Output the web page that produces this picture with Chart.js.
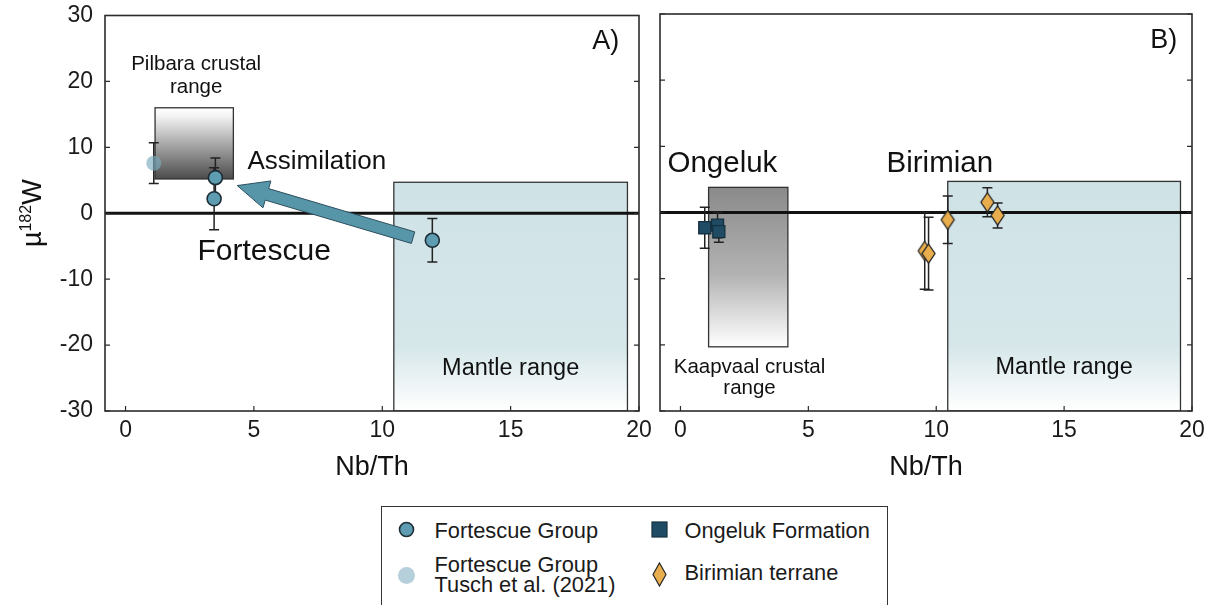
<!DOCTYPE html>
<html>
<head>
<meta charset="utf-8">
<script src="https://cdn.jsdelivr.net/npm/chart.js@4.4.0/dist/chart.umd.min.js"></script>
<style>
  html, body { margin: 0; padding: 0; background: #fff; width: 1220px; height: 605px; overflow: hidden;
               font-family: 'Liberation Sans', Arial, Helvetica, sans-serif; }
  #cA { position: absolute; left: 0; top: -8px; }
  #cB { position: absolute; left: 650px; top: 0; }
  .legend { position: absolute; left: 381px; top: 506px; width: 507px; height: 110px;
            border: 1.5px solid #333; box-sizing: border-box; background: #fff; }
  .legend svg { position: absolute; left: 0; top: 0; }
  .lt { position: absolute; font-size: 21.8px; line-height: 21px; color: #1a1a1a; white-space: nowrap; }
  .lt.two { line-height: 20px; }
</style>
</head>
<body>
<canvas id="cA" width="660" height="508"></canvas>
<canvas id="cB" width="570" height="500"></canvas>

<div class="legend">
  <svg width="507" height="110">
    <circle cx="24.5" cy="22.5" r="7" fill="#5d9cb1" stroke="#1d2c35" stroke-width="1.6"/>
    <circle cx="24.5" cy="68.5" r="8.5" fill="#b5d0da"/>
    <rect x="270" y="15" width="15" height="15" fill="#1f4b65" stroke="#14303f" stroke-width="1.2"/>
    <polygon points="277.5,56 284,67.5 277.5,79 271,67.5" fill="#e8ad4c" stroke="#262626" stroke-width="1.2"/>
  </svg>
  <div class="lt" style="left:52.5px; top:12.7px;">Fortescue Group</div>
  <div class="lt two" style="left:52.5px; top:48.2px;">Fortescue Group<br>Tusch et al. (2021)</div>
  <div class="lt" style="left:302.5px; top:12.7px;">Ongeluk Formation</div>
  <div class="lt" style="left:302.5px; top:54.7px;">Birimian terrane</div>
</div>

<script>
// ---- data: Nb/Th, µ182W and 2SD uncertainty ----
const fortescueNbTh = [3.5, 3.45, 11.95];
const fortescueMu   = [5.4, 2.2, -4.1];
const fortescueErr  = [3.0, 4.7, 3.3];

const tuschNbTh = [1.1];
const tuschMu   = [7.6];
const tuschErr  = [3.1];

const ongelukNbTh = [0.95, 1.45, 1.5];
const ongelukMu   = [-2.3, -1.9, -2.9];
const ongelukErr  = [3.1, 1.9, 1.6];

const birimianNbTh = [9.55, 9.7, 10.45, 12.0, 12.4];
const birimianMu   = [-5.8, -6.2, -1.1, 1.55, -0.45];
const birimianErr  = [5.8, 5.5, 3.6, 2.2, 1.9];

// reference ranges: [Nb/Th min, Nb/Th max, µ182W min, µ182W max]
const pilbaraRange  = [1.15, 4.2, 5.2, 16.0];
const kaapvaalRange = [1.1, 4.2, -20.3, 3.8];
const mantleRange   = [10.45, 19.55, -30, 4.7];

// assimilation trend: from mantle-like sample towards the crustal field
const assimilationFrom = [11.2, -3.7];
const assimilationTo   = [4.35, 4.2];

const xTicks = [0, 5, 10, 15, 20];
const yTicks = [-30, -20, -10, 0, 10, 20, 30];

const FONT = "'Liberation Sans', Arial, Helvetica, sans-serif";

function points(xs, ys) { return xs.map((x, i) => ({ x: x, y: ys[i] })); }

// tall diamond marker used for the Birimian samples
function diamondMarker(w, h) {
  const c = document.createElement('canvas');
  c.width = w + 4; c.height = h + 4;
  const g = c.getContext('2d');
  const cx = c.width / 2, cy = c.height / 2;
  g.beginPath();
  g.moveTo(cx, cy - h / 2); g.lineTo(cx + w / 2, cy);
  g.lineTo(cx, cy + h / 2); g.lineTo(cx - w / 2, cy);
  g.closePath();
  g.fillStyle = '#e8ad4c'; g.fill();
  g.lineWidth = 1.3; g.strokeStyle = '#262626'; g.stroke();
  return c;
}

function drawRange(ctx, xs, ys, r) {
  const [x0, x1, y0, y1] = r.values;
  const L = xs.getPixelForValue(x0), R = xs.getPixelForValue(x1);
  const T = ys.getPixelForValue(y1), B = ys.getPixelForValue(y0);
  const grad = ctx.createLinearGradient(0, T, 0, B);
  r.stops.forEach(s => grad.addColorStop(s[0], s[1]));
  ctx.fillStyle = grad;
  ctx.fillRect(L, T, R - L, B - T);
  ctx.lineWidth = 1.3; ctx.strokeStyle = '#333';
  ctx.strokeRect(L, T, R - L, B - T);
}

function drawArrow(ctx, xs, ys, from, to) {
  const x0 = xs.getPixelForValue(from[0]), y0 = ys.getPixelForValue(from[1]);
  const x1 = xs.getPixelForValue(to[0]),   y1 = ys.getPixelForValue(to[1]);
  const dx = x1 - x0, dy = y1 - y0, len = Math.hypot(dx, dy);
  const ux = dx / len, uy = dy / len, nx = -uy, ny = ux;
  const headLen = 31, headHalf = 14, shaftHalf = 6;
  const bx = x1 - ux * headLen, by = y1 - uy * headLen;
  ctx.beginPath();
  ctx.moveTo(x0 + nx * shaftHalf, y0 + ny * shaftHalf);
  ctx.lineTo(bx + nx * shaftHalf, by + ny * shaftHalf);
  ctx.lineTo(bx + nx * headHalf, by + ny * headHalf);
  ctx.lineTo(x1, y1);
  ctx.lineTo(bx - nx * headHalf, by - ny * headHalf);
  ctx.lineTo(bx - nx * shaftHalf, by - ny * shaftHalf);
  ctx.lineTo(x0 - nx * shaftHalf, y0 - ny * shaftHalf);
  ctx.closePath();
  ctx.fillStyle = '#5795a9'; ctx.fill();
  ctx.lineWidth = 1; ctx.strokeStyle = '#2c4f5e'; ctx.stroke();
}

function text(ctx, str, px, py, size, align) {
  ctx.font = size + 'px ' + FONT;
  ctx.fillStyle = '#111';
  ctx.textAlign = align || 'center';
  ctx.textBaseline = 'middle';
  ctx.fillText(str, px, py);
}

const panelDecor = {
  id: 'panelDecor',
  beforeDatasetsDraw(chart, args, opts) {
    const { ctx, chartArea: a, scales: { x, y } } = chart;
    ctx.save();
    ctx.beginPath(); ctx.rect(a.left, a.top, a.width, a.height); ctx.clip();
    (opts.ranges || []).forEach(r => drawRange(ctx, x, y, r));
    // µ182W = 0 reference line
    const y0 = y.getPixelForValue(0);
    ctx.beginPath(); ctx.moveTo(a.left, y0); ctx.lineTo(a.right, y0);
    ctx.lineWidth = 3; ctx.strokeStyle = '#111'; ctx.stroke();
    if (opts.arrow) drawArrow(ctx, x, y, opts.arrow.from, opts.arrow.to);
    // 2SD error bars
    ctx.lineWidth = 1.5; ctx.strokeStyle = '#222';
    chart.data.datasets.forEach(ds => {
      if (!ds.errors) return;
      ds.data.forEach((p, i) => {
        const px = x.getPixelForValue(p.x);
        const t = y.getPixelForValue(p.y + ds.errors[i]);
        const b = y.getPixelForValue(p.y - ds.errors[i]);
        ctx.beginPath();
        ctx.moveTo(px, t); ctx.lineTo(px, b);
        ctx.moveTo(px - 5, t); ctx.lineTo(px + 5, t);
        ctx.moveTo(px - 5, b); ctx.lineTo(px + 5, b);
        ctx.stroke();
      });
    });
    ctx.restore();
  },
  afterDraw(chart, args, opts) {
    const { ctx, chartArea: a, scales: { x, y } } = chart;
    ctx.save();
    // frame and inward ticks
    ctx.lineWidth = 1.6; ctx.strokeStyle = '#2b2b2b';
    ctx.strokeRect(a.left, a.top, a.width, a.height);
    ctx.lineWidth = 1.2;
    ctx.beginPath();
    xTicks.forEach(v => {
      const px = x.getPixelForValue(v);
      ctx.moveTo(px, a.bottom); ctx.lineTo(px, a.bottom - 5);
    });
    yTicks.forEach(v => {
      const py = y.getPixelForValue(v);
      ctx.moveTo(a.left, py); ctx.lineTo(a.left + 5, py);
      ctx.moveTo(a.right, py); ctx.lineTo(a.right - 5, py);
    });
    ctx.stroke();
    // annotations
    (opts.labels || []).forEach(l => {
      text(ctx, l.text, x.getPixelForValue(l.x), y.getPixelForValue(l.y), l.size, l.align);
    });
    // y-axis title with superscript mass number
    if (opts.yTitle) {
      ctx.translate(32, (a.top + a.bottom) / 2);
      ctx.rotate(-Math.PI / 2);
      ctx.textBaseline = 'alphabetic';
      ctx.fillStyle = '#111';
      const big = '27px ' + FONT, small = '16px ' + FONT;
      ctx.font = big; const wMu = ctx.measureText('µ').width, wW = ctx.measureText('W').width;
      ctx.font = small; const wSup = ctx.measureText('182').width;
      let cx = -(wMu + wSup + wW) / 2;
      const base = 9;
      ctx.textAlign = 'left';
      ctx.font = big; ctx.fillText('µ', cx, base); cx += wMu;
      ctx.font = small; ctx.fillText('182', cx, base - 10); cx += wSup;
      ctx.font = big; ctx.fillText('W', cx, base);
    }
    ctx.restore();
  }
};

const crustStopsPilbara = [[0, '#ffffff'], [0.12, '#f3f3f3'], [1, '#4b4b4b']];
const crustStopsKaapvaal = [[0, '#8a8a8a'], [0.55, '#b3b3b3'], [1, '#ffffff']];
const mantleStops = [[0, '#cfe2e6'], [0.72, '#d6e7ea'], [1, '#ffffff']];

function makeChart(id, datasets, decor, showYLabels, yWidth, padRight) {
  return new Chart(document.getElementById(id), {
    type: 'scatter',
    data: { datasets: datasets },
    options: {
      responsive: false,
      animation: false,
      devicePixelRatio: 1,
      layout: { padding: { left: 0, right: padRight, top: 14, bottom: 0 } },
      plugins: { legend: { display: false }, tooltip: { enabled: false }, panelDecor: decor },
      scales: {
        x: {
          type: 'linear', min: -0.8, max: 20,
          grid: { display: false, drawTicks: false },
          border: { display: false },
          afterBuildTicks: s => { s.ticks = xTicks.map(v => ({ value: v })); },
          ticks: { font: { family: FONT, size: 23, lineHeight: 1 }, color: '#1a1a1a', padding: 8,
                   maxRotation: 0, autoSkip: false },
          title: { display: true, text: 'Nb/Th', font: { family: FONT, size: 27 }, color: '#111',
                   padding: { top: 0, bottom: 16 } },
          afterFit: s => { s.height = 89; }
        },
        y: {
          type: 'linear', min: -30, max: 30,
          grid: { display: false, drawTicks: false },
          border: { display: false },
          afterBuildTicks: s => { s.ticks = yTicks.map(v => ({ value: v })); },
          ticks: { display: showYLabels, font: { family: FONT, size: 23, lineHeight: 1 }, color: '#1a1a1a',
                   padding: 12, autoSkip: false },
          afterFit: s => { s.width = yWidth; }
        }
      }
    },
    plugins: [panelDecor]
  });
}

// Panel A: Fortescue Group
makeChart('cA', [
  { label: 'Fortescue Group (Tusch et al. 2021)', data: points(tuschNbTh, tuschMu), errors: tuschErr,
    pointStyle: 'circle', pointRadius: 7.5, backgroundColor: 'rgba(120,170,189,0.65)', borderWidth: 0 },
  { label: 'Fortescue Group', data: points(fortescueNbTh, fortescueMu), errors: fortescueErr,
    pointStyle: 'circle', pointRadius: 7, backgroundColor: '#5d9cb1', borderColor: '#1d2c35', borderWidth: 1.6 }
], {
  ranges: [
    { values: pilbaraRange, stops: crustStopsPilbara },
    { values: mantleRange, stops: mantleStops }
  ],
  arrow: { from: assimilationFrom, to: assimilationTo },
  yTitle: true,
  labels: [
    { text: 'Pilbara crustal', x: 2.75, y: 22.6, size: 20.5 },
    { text: 'range', x: 2.75, y: 19.1, size: 20.5 },
    { text: 'Assimilation', x: 7.45, y: 7.8, size: 26 },
    { text: 'Fortescue', x: 5.4, y: -5.9, size: 30 },
    { text: 'Mantle range', x: 15, y: -23.5, size: 23.5 },
    { text: 'A)', x: 18.7, y: 26, size: 27 }
  ]
}, true, 105, 21);

// Panel B: Ongeluk Formation and Birimian terrane
makeChart('cB', [
  { label: 'Ongeluk Formation', data: points(ongelukNbTh, ongelukMu), errors: ongelukErr,
    pointStyle: 'rect', pointRadius: 8.5, backgroundColor: '#1f4b65', borderColor: '#14303f', borderWidth: 1.3 },
  { label: 'Birimian terrane', data: points(birimianNbTh, birimianMu), errors: birimianErr,
    pointStyle: diamondMarker(13, 19), pointRadius: 8 }
], {
  ranges: [
    { values: kaapvaalRange, stops: crustStopsKaapvaal },
    { values: mantleRange, stops: mantleStops }
  ],
  labels: [
    { text: 'Ongeluk', x: 1.64, y: 7.4, size: 29.5 },
    { text: 'Birimian', x: 10.14, y: 7.4, size: 29.5 },
    { text: 'Kaapvaal crustal', x: 2.7, y: -23.4, size: 20.5 },
    { text: 'range', x: 2.7, y: -26.6, size: 20.5 },
    { text: 'Mantle range', x: 15, y: -23.5, size: 23.5 },
    { text: 'B)', x: 18.9, y: 26, size: 27 }
  ]
}, false, 10, 28);
</script>
</body>
</html>
